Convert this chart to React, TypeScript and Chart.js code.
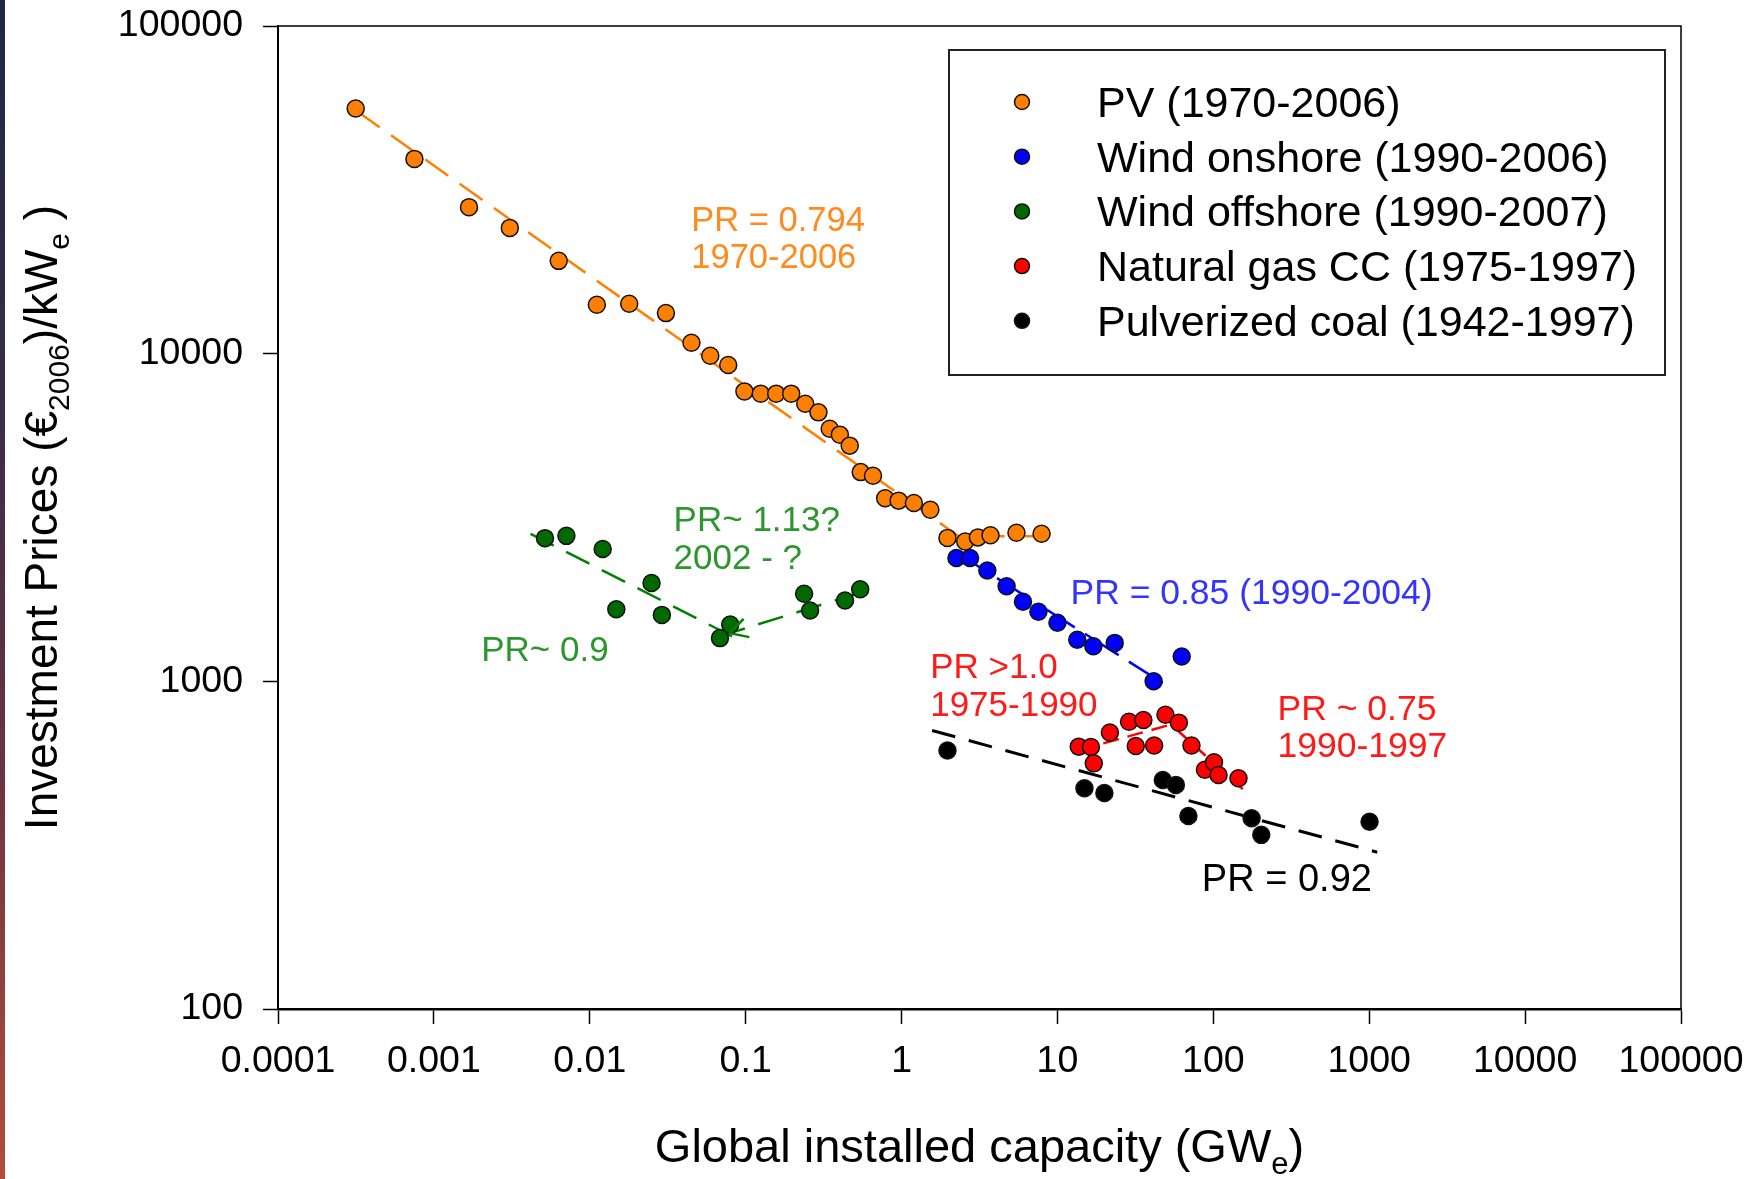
import React, { useEffect, useRef } from "react";
import { Chart, registerables } from "chart.js";

Chart.register(...registerables);

// ---------- tick values ----------
const xTickValues = [0.0001, 0.001, 0.01, 0.1, 1, 10, 100, 1000, 10000, 100000];
const yTickValues = [100, 1000, 10000, 100000];

// ---------- series (GW, EUR2006/kW) ----------
const pvX = [0.000315, 0.00075, 0.00168, 0.00307, 0.00632, 0.0111, 0.0179, 0.0308, 0.0449, 0.0593, 0.0773, 0.0982, 0.125, 0.157, 0.196, 0.241, 0.293, 0.346, 0.402, 0.465, 0.547, 0.656, 0.785, 0.957, 1.2, 1.53, 1.97, 2.56, 3.09, 3.72, 5.46, 7.91];
const pvY = [56000, 39300, 28000, 24200, 19200, 14100, 14200, 13300, 10800, 9860, 9230, 7670, 7550, 7550, 7550, 7030, 6620, 5900, 5660, 5240, 4350, 4240, 3620, 3560, 3500, 3340, 2740, 2670, 2750, 2790, 2840, 2820];

const onshoreX = [2.25, 2.75, 3.55, 4.72, 6.01, 7.55, 10.0, 13.4, 17.0, 23.3, 41.4, 62.7];
const onshoreY = [2380, 2380, 2180, 1950, 1750, 1630, 1510, 1340, 1280, 1310, 1000, 1190];

const offshoreX = [0.00516, 0.00708, 0.0121, 0.0249, 0.0148, 0.029, 0.0796, 0.0684, 0.237, 0.259, 0.434, 0.543];
const offshoreY = [2735, 2780, 2535, 1995, 1660, 1595, 1490, 1355, 1850, 1645, 1765, 1910];

const gasX = [13.7, 16.4, 17.1, 21.7, 28.8, 35.6, 31.8, 41.7, 49.3, 60.1, 72.4, 88.3, 101, 108, 145];
const gasY = [632, 630, 562, 698, 753, 762, 635, 637, 791, 748, 637, 537, 566, 518, 506];

const coalX = [1.97, 14.9, 20.0, 47.4, 57.5, 69.2, 176, 203, 1005];
const coalY = [615, 472, 456, 500, 483, 388, 382, 340, 373];

// ---------- fitted trend lines (endpoints) ----------
const pvFitX = [0.00032, 2.94];
const pvFitY = [55000, 2560];
const pvFlatX = [3.03, 10.3];
const pvFlatY = [2770, 2770];
const onshoreFitX = [2.14, 49.5];
const onshoreFitY = [2510, 975];
const offshoreFit1X = [0.00417, 0.0984];
const offshoreFit1Y = [2820, 1312];
const offshoreFit2X = [0.537, 0.079];
const offshoreFit2Y = [1862, 1403];
const gasFit1X = [13.8, 55];
const gasFit1Y = [617, 741];
const gasFit2X = [56.9, 164];
const gasFit2Y = [719, 457];
const coalFitX = [1.57, 1125];
const coalFitY = [708, 301];

// ---------- legend ----------
const legendLabels = [
  "PV (1970-2006)",
  "Wind onshore (1990-2006)",
  "Wind offshore (1990-2007)",
  "Natural gas CC (1975-1997)",
  "Pulverized coal (1942-1997)",
];

// ---------- annotations (anchor in data coords: left x, first baseline y) ----------
const annoText = [
  ["PR = 0.794", "1970-2006"],
  ["PR~ 1.13?", "2002 - ?"],
  ["PR~ 0.9"],
  ["PR = 0.85 (1990-2004)"],
  ["PR >1.0", "1975-1990"],
  ["PR ~ 0.75", "1990-1997"],
  ["PR = 0.92"],
];
const annoX = [0.0448, 0.0345, 0.00201, 12.12, 1.526, 258.1, 84.4];
const annoY = [23750, 2867, 1150, 1724, 1023, 762.9, 229.7];

// ---------- styles ----------
const FONT = "'Liberation Sans', Arial, Helvetica, sans-serif";
const C_ORANGE = "#FF8000";
const C_BLUE = "#0000FF";
const C_GREEN = "#006A00";
const C_RED = "#FF0000";
const C_BLACK = "#000000";
const seriesColors = [C_ORANGE, C_BLUE, C_GREEN, C_RED, C_BLACK];
const annoColors = ["#FF8A1E", "#2E962E", "#2E962E", "#3434FF", "#FF1A1A", "#FF1A1A", "#000000"];
const annoSizes = [34.5, 35, 35, 35.5, 35, 35.5, 38];

const zip = (xs: number[], ys: number[]) => xs.map((x, i) => ({ x, y: ys[i] }));

function pointSet(label: string, xs: number[], ys: number[], color: string) {
  return {
    label,
    data: zip(xs, ys),
    backgroundColor: color,
    borderColor: "#111111",
    borderWidth: 1.5,
    pointRadius: 8.5,
    pointHoverRadius: 8.5,
    showLine: false,
    order: 0,
  };
}

function lineSet(label: string, xs: number[], ys: number[], color: string, dash: number[], width = 2.5) {
  return {
    label,
    data: zip(xs, ys),
    borderColor: color,
    backgroundColor: color,
    borderWidth: width,
    borderDash: dash,
    pointRadius: 0,
    showLine: true,
    fill: false,
    order: 1,
  };
}

type Part = { t: string; sub?: boolean };

function richWidth(ctx: CanvasRenderingContext2D, parts: Part[], size: number, subSize: number) {
  let w = 0;
  for (const p of parts) {
    ctx.font = `${p.sub ? subSize : size}px ${FONT}`;
    w += ctx.measureText(p.t).width;
  }
  return w;
}

function drawRich(ctx: CanvasRenderingContext2D, parts: Part[], x: number, y: number, size: number, subSize: number, subOff: number) {
  let cx = x;
  for (const p of parts) {
    ctx.font = `${p.sub ? subSize : size}px ${FONT}`;
    ctx.fillText(p.t, cx, p.sub ? y + subOff : y);
    cx += ctx.measureText(p.t).width;
  }
}

const decorPlugin = {
  id: "decor",
  afterDatasetsDraw(chart: any) {
    const ctx: CanvasRenderingContext2D = chart.ctx;
    const { left, right, top, bottom } = chart.chartArea;
    const xs = chart.scales.x;
    const ys = chart.scales.y;
    ctx.save();

    // frame: top and right
    ctx.strokeStyle = "#000";
    ctx.lineWidth = 1.5;
    ctx.beginPath();
    ctx.moveTo(left, top);
    ctx.lineTo(right, top);
    ctx.lineTo(right, bottom);
    ctx.stroke();

    // arrowhead on the second offshore trend line
    {
      const x1 = xs.getPixelForValue(offshoreFit2X[0]);
      const y1 = ys.getPixelForValue(offshoreFit2Y[0]);
      const x2 = xs.getPixelForValue(offshoreFit2X[1]);
      const y2 = ys.getPixelForValue(offshoreFit2Y[1]);
      const ang = Math.atan2(y2 - y1, x2 - x1);
      const L = 20;
      ctx.strokeStyle = "#008000";
      ctx.lineWidth = 2.5;
      ctx.beginPath();
      for (const s of [-0.5, 0.5]) {
        ctx.moveTo(x2, y2);
        ctx.lineTo(x2 - L * Math.cos(ang + s), y2 - L * Math.sin(ang + s));
      }
      ctx.stroke();
    }

    // annotations
    ctx.textAlign = "left";
    ctx.textBaseline = "alphabetic";
    annoText.forEach((lines, i) => {
      const px = xs.getPixelForValue(annoX[i]);
      const py = ys.getPixelForValue(annoY[i]);
      ctx.font = `${annoSizes[i]}px ${FONT}`;
      ctx.fillStyle = annoColors[i];
      lines.forEach((ln, j) => ctx.fillText(ln, px, py + j * 37.5));
    });

    // legend box
    const bx = 949, by = 50, bw = 716, bh = 325;
    ctx.fillStyle = "#fff";
    ctx.fillRect(bx, by, bw, bh);
    ctx.strokeStyle = "#222";
    ctx.lineWidth = 2;
    ctx.strokeRect(bx, by, bw, bh);
    ctx.font = `43px ${FONT}`;
    legendLabels.forEach((lab, i) => {
      const cy = 104 + i * 54.7;
      ctx.beginPath();
      ctx.arc(1022, cy - 2, 7.5, 0, Math.PI * 2);
      ctx.fillStyle = seriesColors[i];
      ctx.fill();
      ctx.lineWidth = 1.5;
      ctx.strokeStyle = "#111";
      ctx.stroke();
      ctx.fillStyle = "#000";
      ctx.fillText(lab, 1097, cy + 13);
    });

    ctx.restore();
  },
  afterDraw(chart: any) {
    const ctx: CanvasRenderingContext2D = chart.ctx;
    const { left, right, top, bottom } = chart.chartArea;
    ctx.save();
    ctx.fillStyle = "#000";
    ctx.textBaseline = "alphabetic";
    ctx.textAlign = "left";
    // x title
    const xParts: Part[] = [{ t: "Global installed capacity (GW" }, { t: "e", sub: true }, { t: ")" }];
    const xw = richWidth(ctx, xParts, 47, 31);
    drawRich(ctx, xParts, (left + right) / 2 - xw / 2, 1162, 47, 31, 12);
    // y title
    const yParts: Part[] = [
      { t: "Investment Prices (€" },
      { t: "2006", sub: true },
      { t: ")/kW" },
      { t: "e", sub: true },
      { t: " )" },
    ];
    const yw = richWidth(ctx, yParts, 46, 30);
    ctx.translate(57, (top + bottom) / 2);
    ctx.rotate(-Math.PI / 2);
    drawRich(ctx, yParts, -yw / 2, 0, 46, 30, 12);
    ctx.restore();
  },
};

export default function App() {
  const canvasRef = useRef<HTMLCanvasElement | null>(null);

  useEffect(() => {
    document.body.style.margin = "0";
    const canvas = canvasRef.current;
    if (!canvas) return;
    const tickFont = { family: FONT, size: 37.5 };
    const chart = new Chart(canvas, {
      type: "scatter",
      data: {
        datasets: [
          pointSet("PV (1970-2006)", pvX, pvY, C_ORANGE),
          pointSet("Wind onshore (1990-2006)", onshoreX, onshoreY, C_BLUE),
          pointSet("Wind offshore (1990-2007)", offshoreX, offshoreY, C_GREEN),
          pointSet("Natural gas CC (1975-1997)", gasX, gasY, C_RED),
          pointSet("Pulverized coal (1942-1997)", coalX, coalY, C_BLACK),
          lineSet("PV fit", pvFitX, pvFitY, C_ORANGE, [28, 14]),
          lineSet("PV flat", pvFlatX, pvFlatY, C_ORANGE, [28, 14]),
          lineSet("Onshore fit", onshoreFitX, onshoreFitY, C_BLUE, [40, 12]),
          lineSet("Offshore fit 1", offshoreFit1X, offshoreFit1Y, "#008000", [26, 14]),
          lineSet("Offshore fit 2", offshoreFit2X, offshoreFit2Y, "#008000", [26, 14]),
          lineSet("Gas fit 1", gasFit1X, gasFit1Y, C_RED, [16, 9]),
          lineSet("Gas fit 2", gasFit2X, gasFit2Y, C_RED, [16, 9]),
          lineSet("Coal fit", coalFitX, coalFitY, C_BLACK, [24, 14], 3),
        ] as any,
      },
      options: {
        animation: false,
        responsive: false,
        devicePixelRatio: 1,
        layout: { padding: { top: 26, right: 79, left: 0, bottom: 0 } },
        plugins: {
          legend: { display: false },
          tooltip: { enabled: false },
        },
        scales: {
          x: {
            type: "logarithmic",
            position: "bottom",
            min: 0.0001,
            max: 100000,
            afterBuildTicks: (s: any) => {
              s.ticks = xTickValues.map((v) => ({ value: v }));
            },
            afterFit: (s: any) => {
              s.height = 170;
              s.paddingLeft = Math.min(s.paddingLeft, 60);
              s.paddingRight = Math.min(s.paddingRight, 70);
            },
            grid: {
              drawOnChartArea: false,
              drawTicks: true,
              tickLength: 15,
              tickColor: "#000",
              tickWidth: 1.5,
              color: "#000",
            },
            border: { display: true, color: "#000", width: 2.5 },
            ticks: {
              color: "#000",
              font: tickFont,
              padding: 15,
              maxRotation: 0,
              autoSkip: false,
              callback: (v: any) => String(v),
            },
          },
          y: {
            type: "logarithmic",
            position: "left",
            min: 100,
            max: 100000,
            afterBuildTicks: (s: any) => {
              s.ticks = yTickValues.map((v) => ({ value: v }));
            },
            afterFit: (s: any) => {
              s.width = 278;
              s.paddingTop = 20;
              s.paddingBottom = 20;
            },
            grid: {
              drawOnChartArea: false,
              drawTicks: true,
              tickLength: 15,
              tickColor: "#000",
              tickWidth: 1.5,
              color: "#000",
            },
            border: { display: true, color: "#000", width: 2 },
            ticks: {
              color: "#000",
              font: tickFont,
              padding: 20,
              autoSkip: false,
              callback: (v: any) => String(v),
            },
          },
        },
      } as any,
      plugins: [decorPlugin],
    });
    return () => chart.destroy();
  }, []);

  return (
    <div style={{ position: "absolute", left: 0, top: 0, width: 1760, height: 1179, background: "#fff", overflow: "hidden" }}>
      <canvas ref={canvasRef} width={1760} height={1179} style={{ display: "block", width: 1760, height: 1179 }} />
      <div
        style={{
          position: "absolute",
          left: 0,
          top: 0,
          width: 5,
          height: 1179,
          background: "linear-gradient(to bottom, #1c2846 0%, #3b2c48 35%, #6a3442 65%, #b34d3a 100%)",
        }}
      />
    </div>
  );
}
